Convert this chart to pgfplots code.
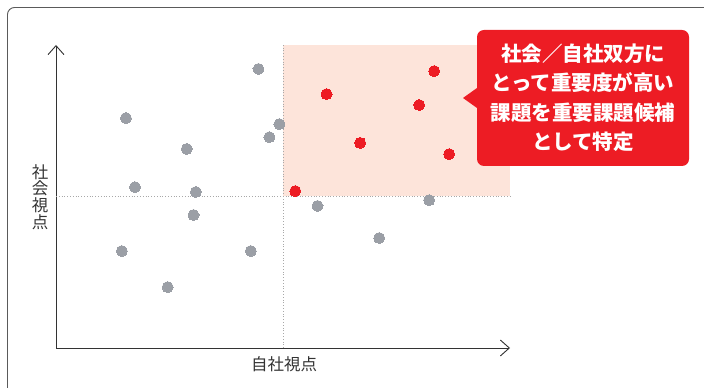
\documentclass[border=0pt]{standalone}
\usepackage{pgfplots}
\pgfplotsset{compat=1.18}
\usepackage{fontspec}
\usetikzlibrary{arrows.meta}
\newfontfamily\jp{Noto Sans CJK JP}
\definecolor{dotgray}{HTML}{9B9FA6}
\definecolor{hotred}{HTML}{ED1C24}
\definecolor{zonepink}{HTML}{FDE4DA}
\definecolor{axisgray}{HTML}{333333}
\definecolor{framegray}{HTML}{5A5A5A}
\definecolor{guidegray}{HTML}{A8A8A8}

% issues outside the priority zone
\pgfplotstableread{
x y
4.46 9.21
1.54 7.59
4.92 7.39
4.70 6.96
2.88 6.57
1.74 5.31
3.08 5.15
5.76 4.69
8.22 4.88
3.03 4.39
1.45 3.20
4.29 3.20
7.12 3.63
2.46 2.01
}\othertable

% issues important from both viewpoints
\pgfplotstableread{
x y
8.33 9.14
5.96 8.38
8.00 8.02
6.70 6.77
8.66 6.40
5.27 5.18
}\keytable

\begin{document}
\begin{tikzpicture}[x=1pt,y=1pt]
\useasboundingbox (0,0) rectangle (704,388);
\clip (0,0) rectangle (704,388);
% panel frame
\draw[framegray, line width=0.9pt, rounded corners=7pt] (7.5,-30) rectangle (740,380.5);

\begin{axis}[
  at={(56pt,40pt)}, anchor=origin,
  scale only axis, width=454pt, height=303pt,
  xmin=0, xmax=10, ymin=0, ymax=10,
  axis lines=left,
  axis line style={axisgray, line width=0.9pt, -{Straight Barb[length=9pt,width=16pt,line width=0.9pt]}},
  xtick=\empty, ytick=\empty,
  clip=false,
]
  % priority zone and quadrant guides
  \addplot[draw=none, fill=zonepink] coordinates {(5,5) (10,5) (10,10) (5,10)} -- cycle;
  \addplot[guidegray, line width=0.8pt, dotted] coordinates {(0,5) (10,5)};
  \addplot[guidegray, line width=0.8pt, dotted] coordinates {(5,0) (5,10)};

  \addplot[only marks, mark=*, mark size=5.5pt, color=dotgray,
    mark options={solid, draw=dotgray, fill=dotgray, line width=0pt}] table {\othertable};
  \addplot[only marks, mark=*, mark size=5.5pt, color=hotred,
    mark options={solid, draw=hotred, fill=hotred, line width=0pt}] table {\keytable};
\end{axis}

% axis titles
\node[text=axisgray, font=\jp\fontsize{16.5}{16.5}\selectfont, anchor=center] at (284,24) {自社視点};
\node[text=axisgray, font=\jp\fontsize{16.5}{16.8}\selectfont, align=center, anchor=center] at (40,191) {社\\会\\視\\点};

% callout
\fill[hotred] (477,300) -- (463,290) -- (477,280) -- cycle;
\fill[hotred, rounded corners=7pt] (477,222) rectangle (689,358);
\node[text=white, font=\jp\bfseries\fontsize{20.5}{29.5}\selectfont, align=center, anchor=center]
  at (583,290.5) {社会／自社双方に\\とって重要度が高い\\課題を重要課題候補\\として特定};
\end{tikzpicture}
\end{document}
